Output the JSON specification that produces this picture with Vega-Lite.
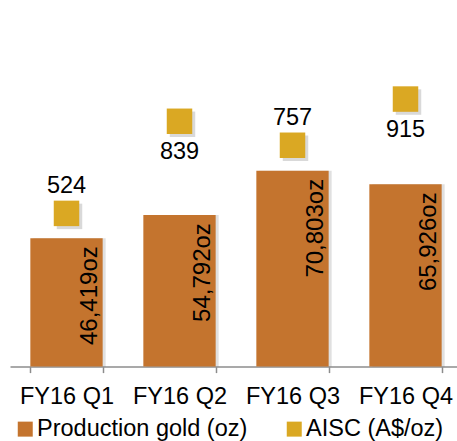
{
  "$schema": "https://vega.github.io/schema/vega-lite/v6.json",
  "width": 457,
  "height": 366.6,
  "autosize": "none",
  "padding": {"left": 0, "top": 0, "right": 0, "bottom": 74.4},
  "config": {"view": {"stroke": null}, "font": "Liberation Sans"},
  "data": {"values": [
    {"quarter": "FY16 Q1", "production": 46419, "prodLabel": "46,419oz", "aisc": 524, "side": "above"},
    {"quarter": "FY16 Q2", "production": 54792, "prodLabel": "54,792oz", "aisc": 839, "side": "below"},
    {"quarter": "FY16 Q3", "production": 70803, "prodLabel": "70,803oz", "aisc": 757, "side": "above"},
    {"quarter": "FY16 Q4", "production": 65926, "prodLabel": "65,926oz", "aisc": 915, "side": "below"}
  ]},
  "encoding": {
    "x": {
      "field": "quarter", "type": "nominal", "sort": null,
      "scale": {"range": [10, 462], "paddingInner": 0.36, "paddingOuter": 0.18},
      "axis": {
        "title": null, "labelAngle": 0, "labelFontSize": 23.5, "labelColor": "#000000",
        "labelPadding": 12, "tickSize": 6, "tickBand": "extent",
        "domainColor": "#8C8C8C", "domainWidth": 1.5, "tickColor": "#8C8C8C", "tickWidth": 1.5,
        "labelFont": "Liberation Sans"
      }
    }
  },
  "layer": [
    {
      "encoding": {
        "y": {"field": "production", "type": "quantitative", "scale": {"domain": [0, 132600], "nice": false}, "axis": null}
      },
      "layer": [
        {"mark": {"type": "bar", "color": "#000000", "opacity": 0.12, "xOffset": 3}, "encoding": {}},
        {
          "mark": {"type": "bar"},
          "encoding": {
            "color": {
              "datum": "Production gold (oz)", "type": "nominal",
              "scale": {"domain": ["Production gold (oz)", "AISC (A$/oz)"], "range": ["#C4742E", "#DAA823"]},
              "legend": {
                "title": null, "orient": "none", "direction": "horizontal", "legendX": 13.5, "legendY": 417,
                "symbolType": "square", "symbolSize": 225, "symbolStrokeWidth": 0, "symbolOpacity": 1,
                "labelFontSize": 23.5, "labelColor": "#000000", "labelOffset": 0, "columnPadding": 35,
                "padding": 0, "labelLimit": 400, "labelFont": "Liberation Sans"
              }
            }
          }
        },
        {
          "mark": {"type": "text", "angle": 270, "align": "right", "baseline": "alphabetic", "fontSize": 24, "xOffset": 30.5, "yOffset": 8, "color": "#000000"},
          "encoding": {"text": {"field": "prodLabel"}}
        }
      ]
    },
    {
      "encoding": {
        "y": {"field": "aisc", "type": "quantitative", "scale": {"domain": [0, 1253.8], "nice": false}, "axis": null}
      },
      "layer": [
        {"mark": {"type": "point", "shape": "square", "size": 650, "filled": true, "color": "#000000", "opacity": 0.15, "strokeWidth": 0, "xOffset": 3, "yOffset": 3}, "encoding": {}},
        {
          "mark": {"type": "point", "shape": "square", "size": 650, "filled": true, "opacity": 1, "strokeWidth": 0},
          "encoding": {"color": {"datum": "AISC (A$/oz)", "type": "nominal"}}
        },
        {
          "transform": [{"filter": "datum.side == 'above'"}],
          "mark": {"type": "text", "baseline": "alphabetic", "fontSize": 23.5, "yOffset": -20, "color": "#000000"},
          "encoding": {"text": {"field": "aisc"}}
        },
        {
          "transform": [{"filter": "datum.side == 'below'"}],
          "mark": {"type": "text", "baseline": "alphabetic", "fontSize": 23.5, "yOffset": 38, "color": "#000000"},
          "encoding": {"text": {"field": "aisc"}}
        }
      ]
    }
  ],
  "resolve": {"scale": {"y": "independent"}}
}
